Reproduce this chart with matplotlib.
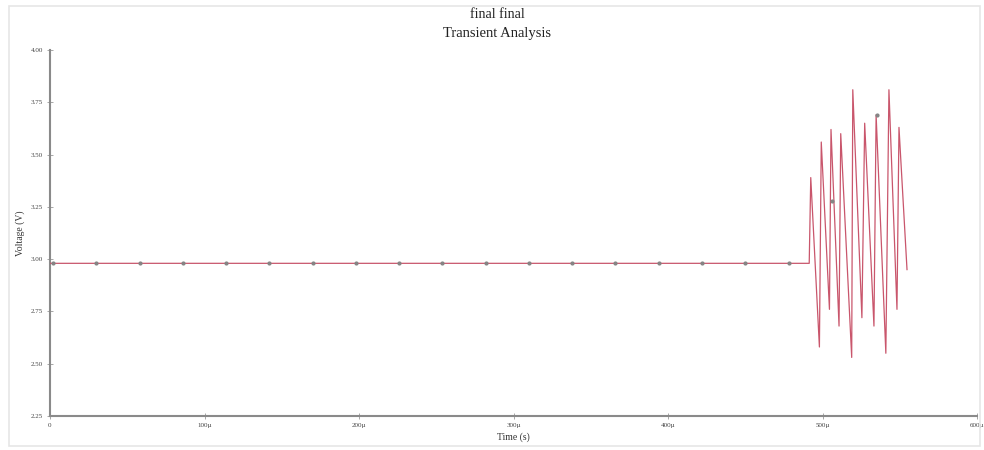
import matplotlib
matplotlib.use("Agg")
import matplotlib.pyplot as plt
from matplotlib.patches import Rectangle
from matplotlib.ticker import FixedLocator

# Transient waveform breakpoints: time in microseconds, voltage in volts
time_us = [0, 491.4, 492.4, 498.0, 499.2, 504.5, 505.5, 510.7, 511.8, 518.9,
           519.6, 525.5, 527.3, 533.3, 534.7, 541.0, 543.0, 548.2, 549.5, 554.7]
voltage = [2.98, 2.98, 3.39, 2.58, 3.56, 2.76, 3.62, 2.68, 3.60, 2.53,
           3.81, 2.72, 3.65, 2.68, 3.69, 2.55, 3.81, 2.76, 3.63, 2.95]

# Sample markers drawn on the trace
marker_t = [2, 30, 58, 86, 114, 142, 170, 198, 226, 254, 282, 310, 338,
            366, 394, 422, 450, 478, 506, 535]
marker_v = [2.98] * 18 + [3.28, 3.69]

x_ticks = [0, 100, 200, 300, 400, 500, 600]
x_labels = ["0", "100µ", "200µ", "300µ", "400µ", "500µ", "600µ"]
y_ticks = [2.25, 2.50, 2.75, 3.00, 3.25, 3.50, 3.75, 4.00]
y_labels = ["2.25", "2.50", "2.75", "3.00", "3.25", "3.50", "3.75", "4.00"]

serif = ["Liberation Serif", "DejaVu Serif"]

fig = plt.figure(figsize=(9.84, 4.5), dpi=100)
fig.patch.set_facecolor("white")
fig.patches.append(Rectangle((9 / 984, 4 / 450), 971 / 984, 440 / 450,
                             transform=fig.transFigure, fill=False,
                             edgecolor="#e6e6e6", linewidth=1.2))

ax = fig.add_axes([50 / 984, 1 - 416 / 450, 927 / 984, 366 / 450])
ax.plot(time_us, voltage, color="#c9566c", linewidth=0.9, zorder=3)
ax.plot(marker_t, marker_v, linestyle="none", marker="o", markersize=2.0,
        color="#858585", zorder=4)

ax.set_xlim(0, 600)
ax.set_ylim(2.25, 4.00)
ax.xaxis.set_major_locator(FixedLocator(x_ticks))
ax.yaxis.set_major_locator(FixedLocator(y_ticks))
ax.set_xticklabels(x_labels, fontsize=5, family=serif, color="#444444")
ax.set_yticklabels(y_labels, fontsize=5, family=serif, color="#444444")
ax.tick_params(axis="both", direction="inout", length=4, width=0.6,
               color="#999999", pad=3)

for side in ("top", "right"):
    ax.spines[side].set_visible(False)
for side in ("left", "bottom"):
    ax.spines[side].set_color("#8a8a8a")
    ax.spines[side].set_linewidth(1.5)

ax.set_xlabel("Time (s)", fontsize=7, family=serif, color="#333333", labelpad=3)
ax.set_ylabel("Voltage (V)", fontsize=7, family=serif, color="#333333", labelpad=4)

fig.text(0.505, 1 - 14 / 450, "final final", ha="center", va="center",
         fontsize=10, family=serif, color="#222222")
fig.text(0.505, 1 - 33 / 450, "Transient Analysis", ha="center", va="center",
         fontsize=10.5, family=serif, color="#222222")

fig.savefig("out.png", dpi=100)
